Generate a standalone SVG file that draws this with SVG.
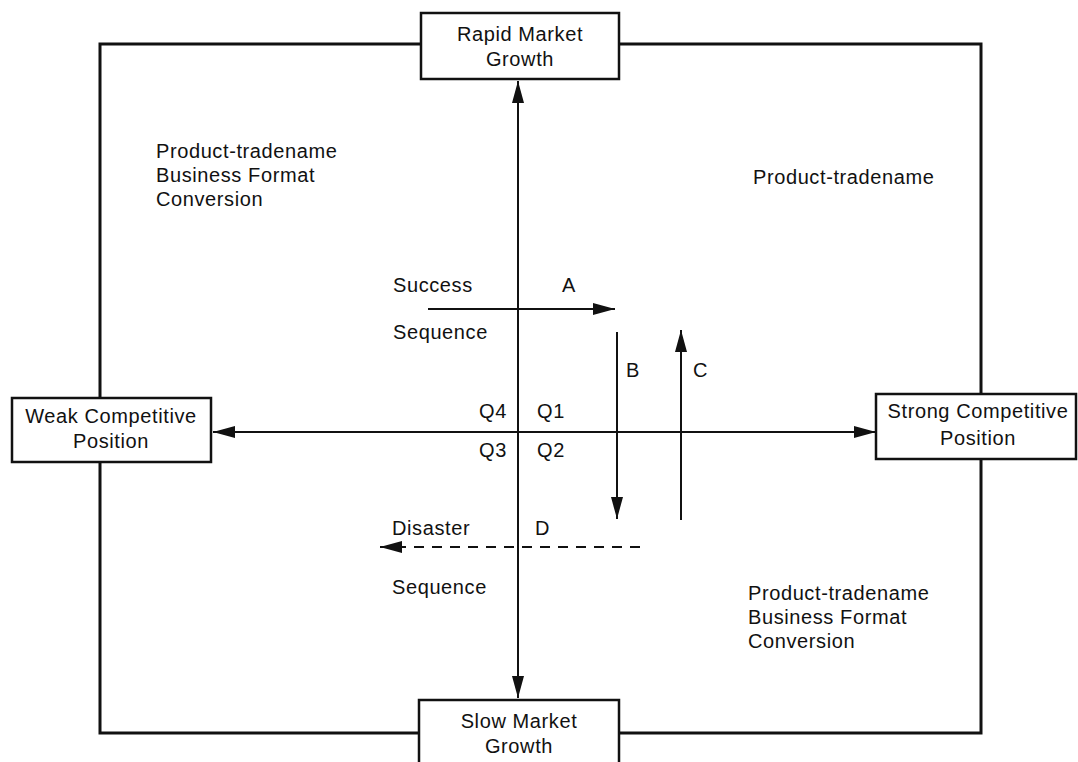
<svg xmlns="http://www.w3.org/2000/svg" width="1078" height="762" viewBox="0 0 1078 762">
  <style>
    text { font-family: "Liberation Sans", Arial, sans-serif; font-size: 20px; letter-spacing: 0.6px; fill: #111; }
    .mid { text-anchor: middle; }
    .end { text-anchor: end; }
    .frame { fill: none; stroke: #111; stroke-width: 3; }
    .box { fill: #fff; stroke: #111; stroke-width: 2.5; }
    .axis { fill: none; stroke: #111; stroke-width: 2; }
    .dash { fill: none; stroke: #111; stroke-width: 2; stroke-dasharray: 10 8; }
  </style>
  <defs>
    <marker id="head" markerUnits="userSpaceOnUse" markerWidth="24" markerHeight="13" refX="22" refY="6" orient="auto">
      <path d="M0,0 L22,6 L0,12 z" fill="#111"/>
    </marker>
    <marker id="headStart" markerUnits="userSpaceOnUse" markerWidth="24" markerHeight="13" refX="22" refY="6" orient="auto-start-reverse">
      <path d="M0,0 L22,6 L0,12 z" fill="#111"/>
    </marker>
  </defs>

  <rect width="1078" height="762" fill="#fff"/>

  <!-- outer frame -->
  <rect id="frame" class="frame" x="100" y="44" width="881" height="689"/>

  <!-- connectors -->
  <g id="connectors">
    <line class="axis" x1="518" y1="690" x2="518" y2="81" marker-end="url(#head)"/>
    <line class="axis" x1="518" y1="90" x2="518" y2="698" marker-end="url(#head)"/>
    <line class="axis" x1="870" y1="432" x2="213" y2="432" marker-end="url(#head)"/>
    <line class="axis" x1="220" y1="432" x2="876" y2="432" marker-end="url(#head)"/>
    <line id="arrow-a" class="axis" x1="428" y1="309" x2="615" y2="309" marker-end="url(#head)"/>
    <line id="arrow-b" class="axis" x1="617" y1="332" x2="617" y2="519" marker-end="url(#head)"/>
    <line id="arrow-c" class="axis" x1="681" y1="520" x2="681" y2="330" marker-end="url(#head)"/>
    <line id="arrow-d" class="dash" x1="640" y1="547" x2="380" y2="547" marker-end="url(#head)"/>
  </g>

  <!-- axis end boxes -->
  <g id="rapid">
    <rect class="box" x="421" y="13" width="198" height="66"/>
    <text class="mid" x="520" y="41">Rapid Market</text>
    <text class="mid" x="520" y="66">Growth</text>
  </g>
  <g id="slow">
    <rect class="box" x="419" y="700" width="200" height="80"/>
    <text class="mid" x="519" y="728">Slow Market</text>
    <text class="mid" x="519" y="753">Growth</text>
  </g>
  <g id="weak">
    <rect class="box" x="12" y="398" width="199" height="64"/>
    <text class="mid" x="111" y="423">Weak Competitive</text>
    <text class="mid" x="111" y="448">Position</text>
  </g>
  <g id="strong">
    <rect class="box" x="876" y="394" width="200" height="65"/>
    <text class="mid" x="978" y="418">Strong Competitive</text>
    <text class="mid" x="978" y="445">Position</text>
  </g>

  <!-- quadrant strategies -->
  <g id="q4-strategy">
    <text x="156" y="158">Product-tradename</text>
    <text x="156" y="182">Business Format</text>
    <text x="156" y="206">Conversion</text>
  </g>
  <g id="q1-strategy">
    <text x="753" y="184">Product-tradename</text>
  </g>
  <g id="q2-strategy">
    <text x="748" y="600">Product-tradename</text>
    <text x="748" y="624">Business Format</text>
    <text x="748" y="648">Conversion</text>
  </g>

  <!-- sequence and arrow labels -->
  <g id="labels">
    <text x="393" y="292">Success</text>
    <text x="393" y="339">Sequence</text>
    <text class="mid" x="569" y="292">A</text>
    <text x="626" y="377">B</text>
    <text x="693" y="377">C</text>
    <text x="392" y="535">Disaster</text>
    <text x="535" y="535">D</text>
    <text x="392" y="594">Sequence</text>
    <text class="end" x="507" y="418">Q4</text>
    <text x="537" y="418">Q1</text>
    <text class="end" x="507" y="457">Q3</text>
    <text x="537" y="457">Q2</text>
  </g>
</svg>
